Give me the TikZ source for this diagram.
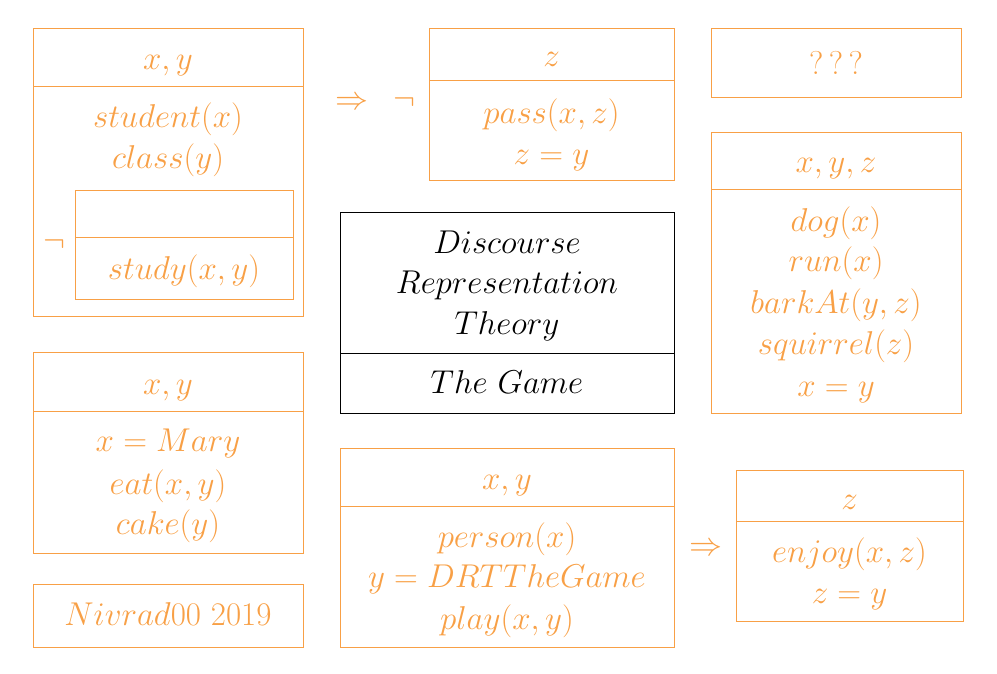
\RequirePackage{fix-cm}
\documentclass[tikz,border=0pt]{standalone}
\usepackage{tikz}

\definecolor{drsorange}{RGB}{248,160,70}

\tikzset{
  drs/.style   = {draw=drsorange, line width=1pt},
  drsblk/.style= {draw=black, line width=1pt},
  txt/.style   = {text=drsorange, anchor=base, inner sep=0pt},
  blk/.style   = {text=black, anchor=base, inner sep=0pt},
  sym/.style   = {text=drsorange, inner sep=0pt}
}

\begin{document}
\begin{tikzpicture} [x=1pt, y=-1pt, font=\fontsize{33}{41}\selectfont]
    \useasboundingbox (0,0) rectangle (997,674);

    % top left: student / class
    \draw [drs] (33,29) rectangle (303,316);
    \draw [drs] (33,87) -- (303,87);
    \draw [drs] (75,191) rectangle (293,299);
    \draw [drs] (75,238) -- (293,238);
    \node (a0) [txt] at (168,70)  {$x,y$};
    \node (a1) [txt] at (168,128) {$student(x)$};
    \node (a2) [txt] at (168,169) {$class(y)$};
    \node (a3) [txt] at (184,279) {$study(x,y)$};
    \node (aneg) [sym] at (54,244) {$\neg$};

    \node (imp1) [sym] at (352,103) {$\Rightarrow$};
    \node (neg1) [sym] at (404,102) {$\neg$};

    % top middle: pass
    \draw [drs] (429,29) rectangle (674,181);
    \draw [drs] (429,81) -- (674,81);
    \node (b0) [txt] at (551.5,67)  {$z$};
    \node (b1) [txt] at (551.5,124) {$pass(x,z)$};
    \node (b2) [txt] at (551.5,165) {$z=y$};

    % top right
    \draw [drs] (711,29) rectangle (961,98);
    \node (c0) [txt] at (836,75) {$?\,?\,?$};

    % right: dog
    \draw [drs] (711,133) rectangle (961,413);
    \draw [drs] (711,190) -- (961,190);
    \node (d0) [txt] at (836,173) {$x,y,z$};
    \node (d1) [txt] at (836,232) {$dog(x)$};
    \node (d2) [txt] at (836,272) {$run(x)$};
    \node (d3) [txt] at (836,313) {$barkAt(y,z)$};
    \node (d4) [txt] at (836,354) {$squirrel(z)$};
    \node (d5) [txt] at (836,396) {$x=y$};

    % title
    \draw [drsblk] (340,213) rectangle (674,413);
    \draw [drsblk] (340,353) -- (674,353);
    \node (e1) [blk] at (507,254) {$Discourse$};
    \node (e2) [blk] at (507,294) {$Representation$};
    \node (e3) [blk] at (507,334) {$Theory$};
    \node (e4) [blk] at (507,393) {$The\ Game$};

    % left: Mary
    \draw [drs] (33,352) rectangle (303,553);
    \draw [drs] (33,411) -- (303,411);
    \node (f0) [txt] at (168,394) {$x,y$};
    \node (f1) [txt] at (168,451) {$x=Mary$};
    \node (f2) [txt] at (168,494) {$eat(x,y)$};
    \node (f3) [txt] at (168,534) {$cake(y)$};

    \draw [drs] (33,584) rectangle (303,647);
    \node (g0) [txt] at (168,625) {$Nivrad00\ 2019$};

    % bottom: person / enjoy
    \draw [drs] (340,448) rectangle (674,647);
    \draw [drs] (340,506) -- (674,506);
    \node (h0) [txt] at (507,489) {$x,y$};
    \node (h1) [txt] at (507,547) {$person(x)$};
    \node (h2) [txt] at (507,587) {$y=DRTTheGame$};
    \node (h3) [txt] at (507,629) {$play(x,y)$};

    \node (imp2) [sym] at (706,549) {$\Rightarrow$};

    \draw [drs] (736,470) rectangle (963,621);
    \draw [drs] (736,521) -- (963,521);
    \node (i0) [txt] at (849.5,509) {$z$};
    \node (i1) [txt] at (849.5,562) {$enjoy(x,z)$};
    \node (i2) [txt] at (849.5,603) {$z=y$};
\end{tikzpicture}
\end{document}
